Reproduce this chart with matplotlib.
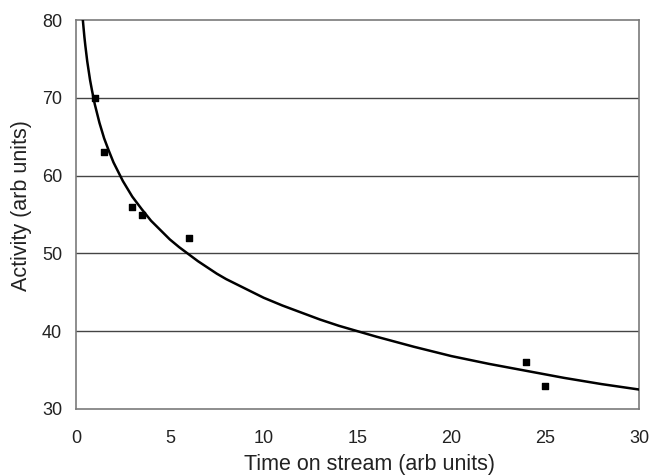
import matplotlib
matplotlib.use("Agg")
import matplotlib.pyplot as plt

plt.rcParams['font.family'] = ['Liberation Sans', 'DejaVu Sans']

# measured points
time_pts = [1, 1.5, 3, 3.5, 6, 24, 25]
activity_pts = [70, 63, 56, 55, 52, 36, 33]

# trend curve
curve_x = [0.37, 0.4, 0.45, 0.5, 0.6, 0.75, 0.85, 1, 1.25, 1.5, 1.75, 2, 2.5, 3, 3.5, 4, 4.5, 5, 5.5,
           6, 6.5, 7, 7.5, 8, 9, 10, 11, 12, 13, 14, 16, 18, 20, 22, 24, 26, 28, 30]
curve_y = [79.9, 79.1, 77.8, 76.7, 74.7, 72.3, 71.0, 69.2, 66.8, 64.8, 63.2, 61.7, 59.3, 57.3, 55.7,
           54.2, 53.0, 51.8, 50.8, 49.9, 49.0, 48.2, 47.4, 46.7, 45.5, 44.3, 43.3, 42.4, 41.5, 40.7,
           39.3, 38.0, 36.8, 35.8, 34.9, 34.0, 33.2, 32.5]

x_ticks = [0, 5, 10, 15, 20, 25, 30]
y_ticks = [30, 40, 50, 60, 70, 80]

fig = plt.figure(figsize=(6.51, 4.76), dpi=100)
ax = fig.add_axes([0.1167, 0.1408, 0.865, 0.817])

for y in y_ticks[1:-1]:
    ax.axhline(y, color='#444444', linewidth=1.0, zorder=1)

ax.plot(curve_x, curve_y, color='black', linewidth=1.8, zorder=3)
ax.scatter(time_pts, activity_pts, marker='s', s=22, color='black', zorder=4)

ax.set_xlim(0, 30)
ax.set_ylim(30, 80)
ax.set_xticks(x_ticks)
ax.set_yticks(y_ticks)
ax.tick_params(length=0, labelsize=13, colors='#222222')
ax.tick_params(axis='x', pad=15)
ax.tick_params(axis='y', pad=10)
for s in ax.spines.values():
    s.set_color('#7a7a7a')
    s.set_linewidth(1.2)

ax.set_xlabel("Time on stream (arb units)", fontsize=15.5, color='#222222', va='center')
ax.set_ylabel("Activity (arb units)", fontsize=15.5, color='#222222', va='center')
ax.xaxis.set_label_coords(0.522, -0.144)
ax.yaxis.set_label_coords(-0.096, 0.522)

fig.savefig("out.png", dpi=100)
